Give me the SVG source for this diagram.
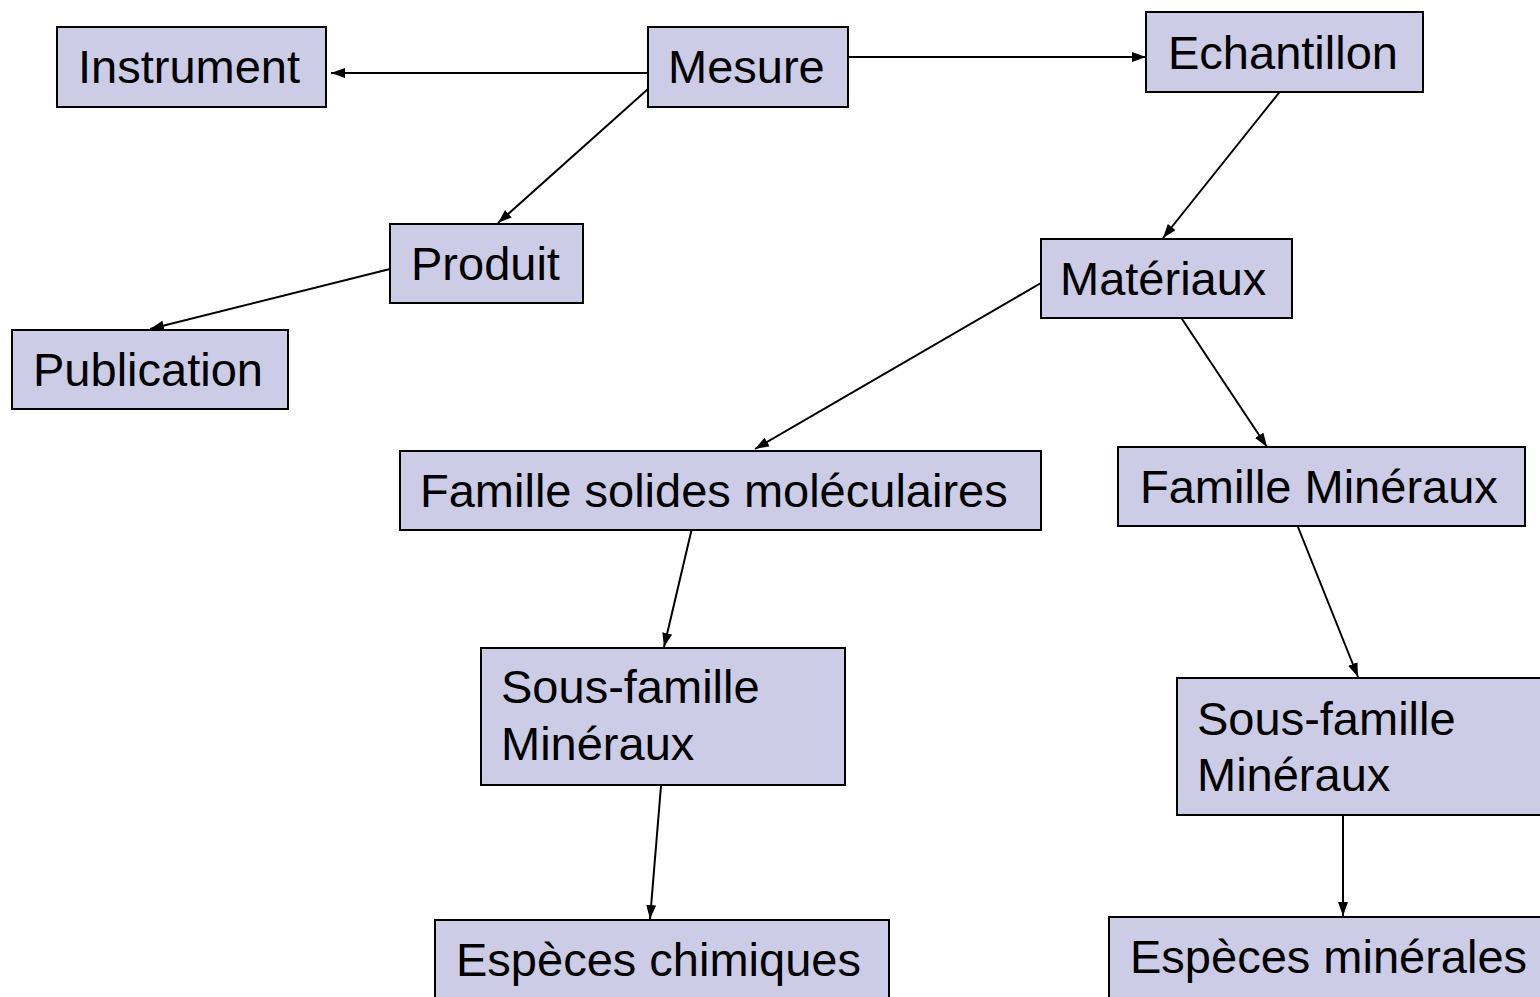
<svg xmlns="http://www.w3.org/2000/svg" width="1540" height="997" viewBox="0 0 1540 997">
<style>
.box{fill:#CCCCE6;stroke:#000;stroke-width:2}
.t{font-family:"Liberation Sans",Arial,sans-serif;font-size:47px;fill:#000}
.c{stroke:#000;stroke-width:2;fill:none;marker-end:url(#ah)}
</style>
<defs>
<marker id="ah" markerUnits="userSpaceOnUse" markerWidth="15" markerHeight="11" refX="14" refY="5" orient="auto">
<path d="M0,0 L14,5 L0,10 z" fill="#000"/>
</marker>
</defs>
<rect width="1540" height="997" fill="#fff"/>
<g id="connectors">
<line class="c" x1="648" y1="73" x2="331" y2="73"/>
<line class="c" x1="846" y1="57" x2="1146" y2="57"/>
<line class="c" x1="648" y1="89" x2="498" y2="223"/>
<line class="c" x1="390" y1="269" x2="150" y2="329"/>
<line class="c" x1="1282" y1="89" x2="1163" y2="238"/>
<line class="c" x1="1041" y1="283" x2="755" y2="449"/>
<line class="c" x1="1180" y1="316" x2="1267" y2="447"/>
<line class="c" x1="692" y1="528" x2="664" y2="647"/>
<line class="c" x1="1298" y1="527" x2="1358" y2="677"/>
<line class="c" x1="661" y1="786" x2="650" y2="919"/>
<line class="c" x1="1343" y1="816" x2="1343" y2="916"/>
</g>
<g id="instrument"><rect class="box" x="57" y="27" width="269" height="80"/><text class="t" x="78" y="83">Instrument</text></g>
<g id="mesure"><rect class="box" x="648" y="27" width="200" height="80"/><text class="t" x="668" y="83">Mesure</text></g>
<g id="echantillon"><rect class="box" x="1146" y="12" width="277" height="80"/><text class="t" x="1168" y="69">Echantillon</text></g>
<g id="produit"><rect class="box" x="390" y="224" width="193" height="79"/><text class="t" x="411" y="280">Produit</text></g>
<g id="publication"><rect class="box" x="12" y="330" width="276" height="79"/><text class="t" x="33" y="386">Publication</text></g>
<g id="materiaux"><rect class="box" x="1041" y="239" width="251" height="79"/><text class="t" x="1060" y="295">Matériaux</text></g>
<g id="famille-solides"><rect class="box" x="400" y="451" width="641" height="79"/><text class="t" x="420" y="507">Famille solides moléculaires</text></g>
<g id="famille-mineraux"><rect class="box" x="1118" y="447" width="407" height="79"/><text class="t" x="1140" y="503">Famille Minéraux</text></g>
<g id="sous-famille-gauche"><rect class="box" x="481" y="648" width="364" height="137"/><text class="t" x="501" y="703">Sous-famille</text><text class="t" x="501" y="760">Minéraux</text></g>
<g id="sous-famille-droite"><rect class="box" x="1177" y="678" width="364" height="137"/><text class="t" x="1197" y="735">Sous-famille</text><text class="t" x="1197" y="791">Minéraux</text></g>
<g id="especes-chimiques"><rect class="box" x="435" y="920" width="454" height="90"/><text class="t" x="456" y="976">Espèces chimiques</text></g>
<g id="especes-minerales"><rect class="box" x="1109" y="917" width="440" height="90"/><text class="t" x="1130" y="973">Espèces minérales</text></g>
</svg>
